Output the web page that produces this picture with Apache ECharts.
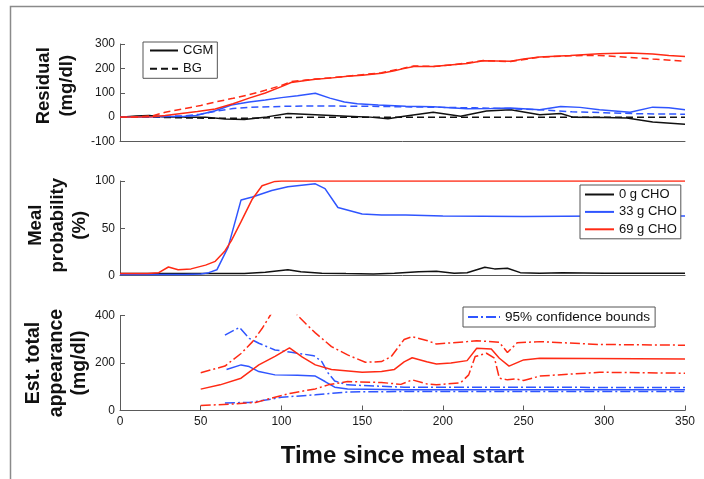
<!DOCTYPE html>
<html>
<head>
<meta charset="utf-8">
<script src="https://cdn.jsdelivr.net/npm/echarts@6/dist/echarts.min.js"></script>
<style>
html,body{margin:0;padding:0;background:#fff;}
#chart{width:704px;height:479px;}
</style>
</head>
<body>
<div id="chart"></div>
<script>
// ---------- DATA (time in minutes since meal start, value) ----------
// Panel 1: Residual (mg/dl)
const resid69CGM = [[0,0],[10,1],[20,2],[28,7],[38,15],[48,23],[59,33],[70,55],[80,78],[90,99],[100,125],[106,142],[115,150],[121,155],[130,160],[141,168],[150,172],[162,180],[170,190],[175,198],[182,208],[194,208],[206,215],[215,220],[225,231],[233,230],[242,229],[250,238],[260,247],[279,253],[297,260],[316,263],[330,259],[340,253],[350,249]];
const resid69BG  = [[0,0],[10,1],[20,5],[28,20],[40,35],[50,48],[59,62],[70,77],[80,92],[90,110],[100,130],[106,146],[115,152],[121,156],[141,168],[162,182],[175,200],[182,210],[194,208],[206,214],[225,232],[242,228],[260,246],[279,252],[297,253],[316,245],[330,238],[350,229]];
const resid33CGM = [[0,0],[10,1],[20,2],[30,3],[40,4],[47,7],[59,26],[69,50],[80,62],[90,70],[100,80],[110,88],[121,98],[130,78],[139,62],[147,55],[160,50],[177,45],[194,43],[215,34],[230,35],[242,37],[260,30],[273,44],[285,40],[297,30],[316,20],[330,41],[340,38],[350,30]];
const resid33BG  = [[0,0],[20,2],[40,5],[50,12],[60,25],[70,35],[80,40],[100,44],[120,46],[140,45],[160,44],[180,42],[200,40],[220,38],[240,35],[260,30],[280,22],[300,18],[320,14],[350,12]];
const resid0CGM  = [[0,0],[10,5],[18,7],[28,1],[40,0],[53,0],[65,-8],[77,-10],[91,1],[104,15],[121,10],[141,4],[155,0],[166,-7],[176,4],[194,20],[211,4],[227,25],[242,30],[260,10],[273,15],[281,-1],[300,-2],[314,-4],[330,-20],[350,-29]];
const resid0BG   = [[0,0],[20,0],[40,-3],[60,-5],[80,-5],[100,-2],[120,0],[200,0],[300,0],[350,-1]];

// Panel 2: Meal probability (%)
const prob0  = [[0,2],[20,2],[40,2],[60,2],[77,2],[90,3.5],[104,6],[112,4],[125,2.5],[140,2],[157,1.7],[170,2.5],[185,4],[196,4.5],[207,2.5],[215,3],[226,8.7],[232,7],[240,7.7],[248,3],[260,2.5],[274,2.8],[300,2.5],[350,2.4]];
const prob33 = [[0,1],[20,1],[40,1],[50,1.5],[55,3],[60,6],[67,30],[75,80],[82,83],[94,90],[104,94],[121,97],[127,92],[135,72],[150,65],[162,64],[177,64],[200,63],[250,62.5],[300,63],[350,63]];
const prob69 = [[0,2],[17,2],[24,3],[30,9],[36,6],[44,7],[53,11],[59,15],[65,26],[69,37],[75,57],[82,81],[88,95],[96,99.6],[100,100],[350,100]];

// Panel 3: Estimated total appearance (mg/dl)
const app69   = [[50,90],[62,108],[75,136],[86,192],[96,228],[105,264],[113,225],[121,192],[131,173],[150,161],[162,164],[170,173],[176,205],[181,222],[190,205],[196,196],[205,200],[215,210],[221,262],[230,259],[235,220],[241,187],[250,213],[260,220],[350,217]];
const app69Hi = [[50,159],[65,187],[75,240],[82,289],[88,345],[93,400],[98,455],[102,480],[106,460],[110,400],[115,366],[121,327],[131,269],[141,234],[152,203],[162,206],[168,227],[176,299],[181,311],[190,295],[196,280],[215,290],[221,294],[235,287],[240,244],[246,285],[260,290],[297,278],[350,275]];
const app69Lo = [[50,21],[69,27],[84,34],[94,52],[106,73],[121,91],[129,108],[141,122],[162,118],[174,110],[181,129],[190,112],[196,108],[211,117],[216,150],[220,227],[227,241],[232,220],[235,136],[240,129],[245,133],[250,126],[260,145],[297,161],[350,157]];
const app33   = [[66,173],[75,192],[80,185],[86,164],[96,150],[110,148],[121,145],[127,122],[133,98],[141,91],[176,87],[250,87],[350,87]];
const app33Hi = [[65,317],[74,350],[80,304],[86,283],[96,255],[106,245],[120,231],[125,206],[129,157],[133,124],[141,108],[176,98],[350,97]];
const app33Lo = [[65,32],[80,34],[94,48],[100,56],[121,66],[141,78],[176,80],[350,80]];

const xTicks = [0,50,100,150,200,250,300,350];

// ---------- STYLE ----------
const FONT = "'Liberation Sans', Arial, Helvetica, sans-serif";
const RED = '#ff2a14', BLUE = '#2f55ff', BLACK = '#111111';
const DASH = [7,4], DASHDOT = [10,3,2,3];
const AX = '#5a5a5a';

const chart = echarts.init(document.getElementById('chart'), null, {renderer:'canvas'});

function xAx(gi, showLabels, name){
  return {
    type:'value', gridIndex:gi, min:xTicks[0], max:xTicks[xTicks.length-1], interval:50,
    axisLine:{show:true, onZero:false, lineStyle:{color:AX, width:1}},
    axisTick:{show:showLabels, inside:true, length:5, lineStyle:{color:AX}},
    axisLabel:{show:showLabels, margin:5, fontSize:12, color:'#1a1a1a', fontFamily:FONT},
    splitLine:{show:false},
    name: name || '', nameLocation:'middle', nameGap:34, nameMoveOverlap:false,
    nameTextStyle:{fontSize:24, fontWeight:'bold', color:'#111', fontFamily:FONT}
  };
}
function yAx(gi, min, max, interval, name, gap, fs, lh, shiftUp){
  return {
    type:'value', gridIndex:gi, min:min, max:max, interval:interval,
    axisLine:{show:true, lineStyle:{color:AX, width:1}},
    axisTick:{show:true, inside:true, length:5, lineStyle:{color:AX}},
    axisLabel:{margin:5, fontSize:12, color:'#1a1a1a', fontFamily:FONT},
    splitLine:{show:false},
    name:name, nameLocation:'middle', nameGap:gap, nameRotate:90, nameMoveOverlap:false,
    nameTextStyle:{fontSize:fs, fontWeight:'bold', lineHeight:lh, color:'#111', fontFamily:FONT, align:'center', padding:[0,0,0,shiftUp*2]}
  };
}
function ln(name, data, color, type, xi, yi, z){
  return {
    type:'line', name:name, data:data, xAxisIndex:xi, yAxisIndex:yi,
    symbol:'none', showSymbol:false, clip:true, z:z||2,
    lineStyle:{color:color, width:1.5, type:type},
    itemStyle:{color:color}, emphasis:{disabled:true}, silent:true
  };
}

const legendBase = {
  orient:'vertical', selectedMode:false, itemHeight:14,
  borderColor:'#555', borderWidth:1, backgroundColor:'#fff',
  itemStyle:{opacity:0, borderWidth:0},
  textStyle:{fontSize:13, color:'#111', fontFamily:FONT}
};

const option = {
  animation:false,
  backgroundColor:'#fff',
  grid:[
    {left:120, right:19, top:44, height:97.5},
    {left:120, right:19, top:181, height:94.5},
    {left:120, right:19, top:315.5, height:95}
  ],
  xAxis:[ xAx(0,false), xAx(1,false), xAx(2,true,'Time since meal start') ],
  yAxis:[
    yAx(0,-100,300,100,'Residual\n(mg/dl)',42,18.5,23,7),
    yAx(1,0,100,50,'Meal\nprobability\n(%)',29.5,18.5,22,3),
    yAx(2,0,400,200,'Est. total\nappearance\n(mg/dl)',29,19.5,23,0)
  ],
  legend:[
    Object.assign({}, legendBase, {data:['CGM','BG'], left:143, top:42, itemWidth:28, itemGap:5.3, padding:[2,4,3,6]}),
    Object.assign({}, legendBase, {data:['0 g CHO','33 g CHO','69 g CHO'], left:580, top:185, itemWidth:29, itemGap:4.4, padding:[3,4,3,4]}),
    Object.assign({}, legendBase, {orient:'horizontal', data:['95% confidence bounds'], left:463, top:307, itemWidth:32, padding:[3,5,3,4], textStyle:{fontSize:13.6, color:'#111', fontFamily:FONT}})
  ],
  graphic:[
    {type:'rect', shape:{x:10.5, y:6.5, width:760, height:520}, style:{fill:'none', stroke:'#8a8a8a', lineWidth:1.5}, silent:true, z:0}
  ],
  series:[
    // legend-only series for panel 1
    ln('CGM', [], BLACK, 'solid', 0, 0),
    ln('BG', [], BLACK, DASH, 0, 0),
    // panel 1
    ln('0 g CGM residual', resid0CGM, BLACK, 'solid', 0, 0),
    ln('0 g BG residual', resid0BG, BLACK, DASH, 0, 0),
    ln('33 g CGM residual', resid33CGM, BLUE, 'solid', 0, 0),
    ln('33 g BG residual', resid33BG, BLUE, DASH, 0, 0),
    ln('69 g CGM residual', resid69CGM, RED, 'solid', 0, 0),
    ln('69 g BG residual', resid69BG, RED, DASH, 0, 0),
    // panel 2
    ln('0 g CHO', prob0, BLACK, 'solid', 1, 1),
    ln('33 g CHO', prob33, BLUE, 'solid', 1, 1),
    ln('69 g CHO', prob69, RED, 'solid', 1, 1),
    // panel 3
    ln('95% confidence bounds', app33Hi, BLUE, DASHDOT, 2, 2),
    ln('95% confidence bounds', app33Lo, BLUE, DASHDOT, 2, 2),
    ln('33 g appearance', app33, BLUE, 'solid', 2, 2),
    ln('69 g upper bound', app69Hi, RED, DASHDOT, 2, 2),
    ln('69 g lower bound', app69Lo, RED, DASHDOT, 2, 2),
    ln('69 g appearance', app69, RED, 'solid', 2, 2)
  ]
};
chart.setOption(option);
</script>
</body>
</html>
